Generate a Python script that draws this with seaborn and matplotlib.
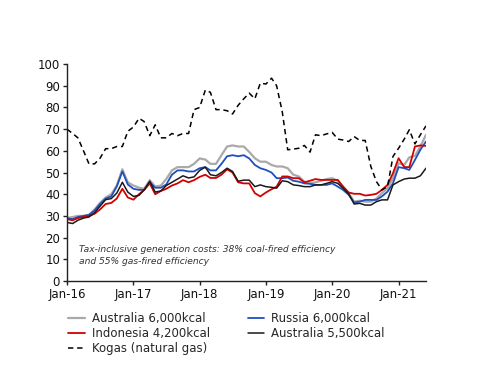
import numpy as np
import pandas as pd
import matplotlib
matplotlib.use("Agg")
import matplotlib.pyplot as plt
import matplotlib.dates as mdates
import seaborn as sns

start_month = "2016-01-01"
n_months = 66

aus6000 = [29, 29.5, 30, 30, 30.5, 33, 36, 38.5, 40, 44, 51.5, 45.5, 44, 43, 42.5, 46.5, 43.5, 44, 47, 51, 52.5, 52.5,
           52.5, 54, 56.5, 56, 54, 54, 58, 62, 62.5, 62, 62, 59.5, 56.6, 55, 55, 53.5, 52.8, 52.8, 52, 49, 48.2, 45.8,
           45, 45.5, 46.2, 47, 47.4, 46.2, 43.5, 40.5, 36.6, 37, 36.6, 36.6, 38, 40.5, 42.8, 47.4, 54.3, 53.5, 57,
           57.7, 62, 67.4]
russia6000 = [29, 28.5, 29.5, 30, 30.5, 32.5, 35.5, 38, 39, 43.5, 50.5, 44.5, 42.5, 42, 42, 45.5, 43, 43, 44.5, 49, 51, 51,
              50.5, 50.5, 52, 52.5, 51, 51, 54, 57.5, 58, 57.5, 58, 56.5, 53.5, 52, 51.2, 50, 47.4, 47.4, 47.7, 46.2,
              45.8, 45, 44.8, 44.3, 44.3, 44.3, 45, 43.5, 42, 39.7, 36.2, 36.6, 37.4, 37.4, 37.4, 39, 41.2, 45, 52.5,
              52, 51.2, 55.8, 60.5, 64.3]
indo4200 = [28.5, 28, 29, 29.5, 30, 31, 33, 35.5, 36, 38, 42.5, 38.5, 37.5, 40, 42, 45, 40, 41.5, 42.5, 44, 45, 46.5,
            45.5, 46.5, 48, 49, 47.5, 47.5, 49, 51.5, 50, 45.5, 45, 45, 40.5, 39, 40.8, 42.3, 43.5, 48.2, 48.2, 47.4,
            47.4, 45.5, 46.2, 47, 46.6, 46.6, 46.6, 46.6, 43.5, 40.8, 40.2, 40.2, 39.4, 39.7, 40.2, 42, 44.3, 49.7,
            56.6, 52.5, 52.5, 62, 62.5, 62.3]
aus5500 = [27, 26.5, 28, 29, 29.5, 31.5, 34.5, 37.5, 38, 40.5, 45.5, 41, 39, 39.5, 42, 46, 41, 41.5, 44, 45.5, 47, 48.5,
           47.5, 48, 51, 52.5, 49, 48.5, 50, 52, 50.5, 46, 46.5, 46.5, 43.5, 44.3, 43.5, 43.2, 42.8, 46.2, 45.8, 44.3,
           44, 43.5, 43.5, 44.3, 44.3, 45, 45.8, 45, 42.8, 40.2, 35.5, 35.8, 35, 35, 36.6, 37.4, 37.4, 44.3, 45.8, 47,
           47.4, 47.4, 48.5, 52]
kogas = [70, 68, 66, 60, 54, 54, 56.6, 61, 61, 62, 62, 69, 71, 75, 73.5, 67, 72, 66, 66, 68, 67, 68, 68, 79, 80, 88, 87,
         79, 79, 78.5, 77, 81, 84, 86.6, 84, 91.2, 90.8, 93.5, 90, 78, 60.5, 60.8, 61.2, 62.5, 59.4, 67.4, 67, 67.8,
         68.5, 65.4, 65, 64.3, 66.6, 64.8, 64.8, 52.8, 45.8, 42, 43.5, 57.4, 61.2, 65.4, 69.7, 63.2, 67.4, 71.5]

series_names = ["Australia 6,000kcal", "Russia 6,000kcal", "Indonesia 4,200kcal",
                "Australia 5,500kcal", "Kogas (natural gas)"]
series_values = [aus6000, russia6000, indo4200, aus5500, kogas]
colors = ["#a9a9a9", "#1f4fbf", "#d40000", "#1a1a1a", "#000000"]
widths = [1.6, 1.3, 1.3, 1.1, 1.1]
styles = ["-", "-", "-", "-", (0, (3.5, 2.5))]

dates = pd.date_range(start_month, periods=n_months, freq="MS")

sns.set_style("white")
plt.rcParams["font.family"] = ["DejaVu Sans"]

fig = plt.figure(figsize=(5.0, 3.86), dpi=100)
ax = fig.add_axes([0.134, 0.272, 0.718, 0.562])

handles = {}
for name, vals, c, w, ls in zip(series_names, series_values, colors, widths, styles):
    df = pd.DataFrame({"date": dates, "value": vals})
    sns.lineplot(data=df, x="date", y="value", ax=ax, color=c, linewidth=w,
                 linestyle=ls, label=name, legend=False)
    handles[name] = ax.lines[-1]

ax.set_xlim(dates[0], dates[-1])
ax.set_ylim(0, 100)
ax.set_yticks(np.arange(0, 101, 10))
ax.xaxis.set_major_locator(mdates.MonthLocator(bymonth=1))
ax.xaxis.set_major_formatter(mdates.DateFormatter("%b-%y"))
ax.set_xlabel("")
ax.set_ylabel("")
for s in ["top", "right"]:
    ax.spines[s].set_visible(False)
for s in ["left", "bottom"]:
    ax.spines[s].set_color("#222222")
    ax.spines[s].set_linewidth(1.0)
ax.tick_params(axis="both", which="major", direction="out", length=3, width=1,
               color="#222222", labelsize=8.5, labelcolor="#111111", pad=2, bottom=True, left=True)

ax.text(0.033, 0.118, "Tax-inclusive generation costs: 38% coal-fired efficiency\nand 55% gas-fired efficiency",
        transform=ax.transAxes, fontsize=6.6, style="italic", color="#333333", va="center",
        linespacing=1.45)

order = ["Australia 6,000kcal", "Indonesia 4,200kcal", "Kogas (natural gas)",
         "Russia 6,000kcal", "Australia 5,500kcal"]
leg = fig.legend([handles[n] for n in order], order, ncol=2, loc="upper left",
                 bbox_to_anchor=(0.115, 0.218), frameon=False, fontsize=8.5,
                 handlelength=1.4, handletextpad=0.6, columnspacing=3.2, labelspacing=0.15)

fig.savefig("out.png", dpi=100)
